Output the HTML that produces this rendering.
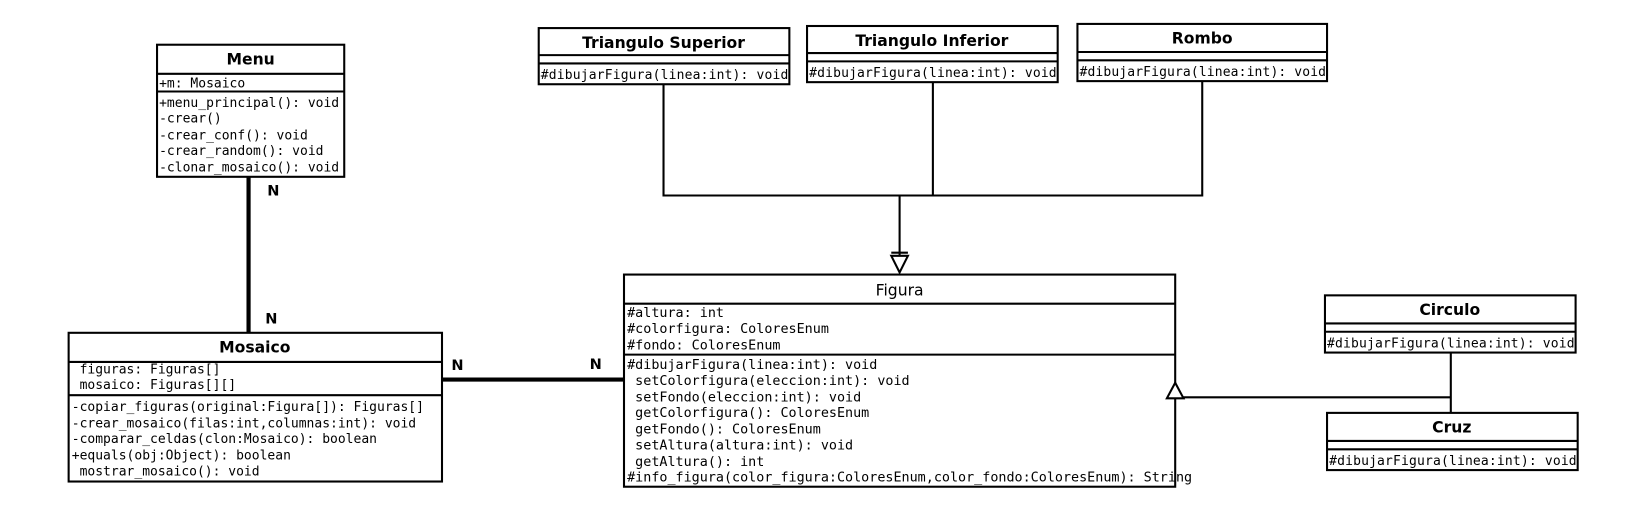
<!DOCTYPE html>
<html><head><meta charset="utf-8"><style>html,body{margin:0;padding:0;background:#fff}svg{display:block}text{white-space:pre}</style></head>
<body>
<svg width="1628" height="532" xmlns="http://www.w3.org/2000/svg">
<rect width="1628" height="532" fill="#fff"/>
<g transform="scale(1.04)">
<g fill="none" stroke="#000" stroke-width="2">
<rect x="151" y="43" width="180" height="127"/><line x1="151" y1="71" x2="331" y2="71"/><line x1="151" y1="88" x2="331" y2="88"/>
<rect x="66" y="320" width="359" height="143"/><line x1="66" y1="348" x2="425" y2="348"/><line x1="66" y1="380" x2="425" y2="380"/>
<rect x="600" y="264" width="530" height="204"/><line x1="600" y1="292" x2="1130" y2="292"/><line x1="600" y1="341" x2="1130" y2="341"/>
<rect x="518" y="27" width="241" height="54"/><line x1="518" y1="53" x2="759" y2="53"/><line x1="518" y1="61" x2="759" y2="61"/>
<rect x="776" y="25" width="241" height="54"/><line x1="776" y1="51" x2="1017" y2="51"/><line x1="776" y1="59" x2="1017" y2="59"/>
<rect x="1036" y="23" width="240" height="55"/><line x1="1036" y1="50" x2="1276" y2="50"/><line x1="1036" y1="58" x2="1276" y2="58"/>
<rect x="1274" y="284" width="241" height="55"/><line x1="1274" y1="311" x2="1515" y2="311"/><line x1="1274" y1="319" x2="1515" y2="319"/>
<rect x="1276" y="397" width="241" height="55"/><line x1="1276" y1="424" x2="1517" y2="424"/><line x1="1276" y1="432" x2="1517" y2="432"/>
<polyline points="638,81 638,188 1156,188 1156,78"/>
<line x1="897" y1="79" x2="897" y2="188"/>
<line x1="865" y1="188" x2="865" y2="246"/>
<line x1="857" y1="243" x2="873" y2="243"/>
<polygon points="857,246 873,246 865,262"/>
<line x1="1395" y1="339" x2="1395" y2="397"/>
<line x1="1138" y1="382" x2="1395" y2="382"/>
<polygon points="1122,383 1138,383 1130,368" fill="#fff"/>
</g>
<g stroke="#000" stroke-width="4">
<line x1="239" y1="170" x2="239" y2="320"/>
<line x1="425" y1="365" x2="600" y2="365"/>
</g>
<g font-family="'DejaVu Sans','Liberation Sans',sans-serif" font-weight="bold" font-size="15" text-anchor="middle">
<text x="241" y="62">Menu</text>
<text x="245" y="339">Mosaico</text>
<text x="638" y="46">Triangulo Superior</text>
<text x="896" y="44">Triangulo Inferior</text>
<text x="1156" y="42">Rombo</text>
<text x="1394" y="303">Circulo</text>
<text x="1396" y="416">Cruz</text>
<text x="257" y="188" text-anchor="start" font-size="14">N</text>
<text x="255" y="311" text-anchor="start" font-size="14">N</text>
<text x="434" y="356" text-anchor="start" font-size="14">N</text>
<text x="567" y="355" text-anchor="start" font-size="14">N</text>
<text x="865" y="284" font-weight="normal">Figura</text>
</g>
<g font-family="'DejaVu Sans Mono','Liberation Mono',monospace" font-size="12.5" xml:space="preserve">
<text x="153" y="84">+m: Mosaico</text>
<text x="153" y="103">+menu_principal(): void</text>
<text x="153" y="118">-crear()</text>
<text x="153" y="134">-crear_conf(): void</text>
<text x="153" y="149">-crear_random(): void</text>
<text x="153" y="165">-clonar_mosaico(): void</text>
<text x="69" y="359"> figuras: Figuras[]</text>
<text x="69" y="374"> mosaico: Figuras[][]</text>
<text x="69" y="395">-copiar_figuras(original:Figura[]): Figuras[]</text>
<text x="69" y="411">-crear_mosaico(filas:int,columnas:int): void</text>
<text x="69" y="426">-comparar_celdas(clon:Mosaico): boolean</text>
<text x="69" y="442">+equals(obj:Object): boolean</text>
<text x="69" y="457"> mostrar_mosaico(): void</text>
<g font-size="12.9">
<text x="603" y="305">#altura: int</text>
<text x="603" y="320">#colorfigura: ColoresEnum</text>
<text x="603" y="336">#fondo: ColoresEnum</text>
<text x="603" y="355">#dibujarFigura(linea:int): void</text>
<text x="603" y="370"> setColorfigura(eleccion:int): void</text>
<text x="603" y="386"> setFondo(eleccion:int): void</text>
<text x="603" y="401"> getColorfigura(): ColoresEnum</text>
<text x="603" y="417"> getFondo(): ColoresEnum</text>
<text x="603" y="432"> setAltura(altura:int): void</text>
<text x="603" y="448"> getAltura(): int</text>
<text x="603" y="463">#info_figura(color_figura:ColoresEnum,color_fondo:ColoresEnum): String</text>
</g>
<text x="520" y="76" textLength="238">#dibujarFigura(linea:int): void</text>
<text x="778" y="74" textLength="238">#dibujarFigura(linea:int): void</text>
<text x="1038" y="73" textLength="237">#dibujarFigura(linea:int): void</text>
<text x="1276" y="334" textLength="238">#dibujarFigura(linea:int): void</text>
<text x="1278" y="447" textLength="238">#dibujarFigura(linea:int): void</text>
</g>
</g>
</svg>
</body></html>
